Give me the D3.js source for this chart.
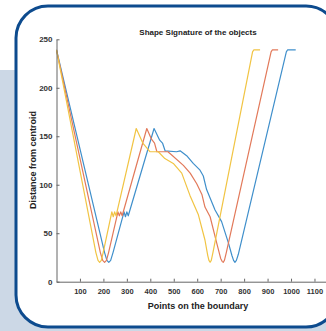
<!DOCTYPE html>
<html>
<head>
<meta charset="utf-8">
<script src="https://cdn.jsdelivr.net/npm/d3@7"></script>
<style>
  html, body { margin: 0; padding: 0; background: #fff; }
  svg { display: block; font-family: "Liberation Sans", Arial, sans-serif; }
</style>
</head>
<body>
<svg id="chart" width="326" height="331"></svg>
<script>
// tick values
const xTicks = [100, 200, 300, 400, 500, 600, 700, 800, 900, 1000, 1100];
const yTicks = [0, 50, 100, 150, 200, 250];

// series 1 (blue)
const blueX = [0, 205, 215, 223, 231, 241, 288, 294, 300, 306, 416, 440, 452, 463, 512, 527, 555, 583, 612, 626, 640, 676, 704, 733, 748, 755, 761, 767, 775, 980, 985, 1020];
const blueY = [239, 30, 22, 20, 22, 30, 72, 67, 72, 68, 158, 146, 143, 135, 134, 135, 130, 122, 115, 109, 95, 74, 62, 40, 27, 22, 20, 22, 28, 237, 239, 239];

// series 2 (orange)
const orangeX = [0, 187, 197, 205, 213, 222, 262, 268, 274, 280, 385, 405, 418, 428, 475, 490, 541, 570, 598, 620, 633, 655, 683, 700, 706, 711, 716, 724, 915, 920, 945];
const orangeY = [239, 30, 22, 20, 22, 30, 72, 68, 72, 68, 158, 147, 143, 134, 134, 131, 120, 112, 101, 90, 77, 67, 40, 24, 21, 20, 22, 30, 237, 239, 239];

// series 3 (yellow)
const yellowX = [0, 168, 177, 184, 191, 199, 236, 242, 248, 254, 340, 368, 399, 434, 462, 498, 534, 569, 605, 633, 645, 650, 655, 660, 667, 836, 841, 868];
const yellowY = [239, 30, 22, 20, 22, 30, 72, 67, 72, 68, 158, 143, 134, 134, 127, 122, 112, 89, 69, 43, 27, 22, 20, 22, 30, 237, 239, 239];

const series = [
  { xs: blueX, ys: blueY, color: '#3f8fcb' },
  { xs: orangeX, ys: orangeY, color: '#e2795a' },
  { xs: yellowX, ys: yellowY, color: '#f1c443' }
];

const svg = d3.select('#chart');

// decoration behind the figure
svg.append('rect')
  .attr('x', 0).attr('y', 70)
  .attr('width', 326).attr('height', 261)
  .attr('fill', '#ccd8e6');

svg.append('rect')
  .attr('x', 16).attr('y', 6)
  .attr('width', 322).attr('height', 321)
  .attr('rx', 32).attr('ry', 32)
  .attr('fill', '#fff')
  .attr('stroke', '#0d4b8e')
  .attr('stroke-width', 3);

const x = d3.scaleLinear().domain([0, 1150]).range([56.5, 326.2]);
const y = d3.scaleLinear().domain([0, 250]).range([281.7, 39.3]);

// lines
const line = d3.line()
  .x(d => x(d[0]))
  .y(d => y(d[1]));

series.forEach(s => {
  const pts = s.xs.map((v, i) => [v, s.ys[i]]);
  svg.append('path')
    .datum(pts)
    .attr('d', line)
    .attr('fill', 'none')
    .attr('stroke', s.color)
    .attr('stroke-width', 1.2)
    .attr('stroke-linejoin', 'round');
});

// axes
const xAxis = svg.append('g')
  .attr('transform', `translate(0,${y(0)})`)
  .call(d3.axisBottom(x).tickValues(xTicks).tickFormat(d3.format('d'))
    .tickSize(-3).tickSizeOuter(0).tickPadding(7));

const yAxis = svg.append('g')
  .attr('transform', `translate(${x(0)},0)`)
  .call(d3.axisLeft(y).tickValues(yTicks).tickFormat(d3.format('d'))
    .tickSize(-3).tickSizeOuter(0).tickPadding(4));

[xAxis, yAxis].forEach(g => {
  g.select('.domain').attr('stroke', '#666');
  g.selectAll('.tick line').attr('stroke', '#666');
  g.selectAll('.tick text')
    .attr('fill', '#333')
    .style('font-family', '"Liberation Sans", Arial, sans-serif')
    .style('font-weight', 'bold');
});
xAxis.selectAll('.tick text').style('font-size', '7.5px');
yAxis.selectAll('.tick text').style('font-size', '8px');

// title and labels
svg.append('text')
  .attr('x', 198).attr('y', 34.5)
  .attr('text-anchor', 'middle')
  .style('font-size', '8px').style('font-weight', 'bold')
  .attr('fill', '#222')
  .text('Shape Signature of the objects');

svg.append('text')
  .attr('x', 198).attr('y', 308.5)
  .attr('text-anchor', 'middle')
  .style('font-size', '9px').style('font-weight', 'bold')
  .attr('fill', '#222')
  .text('Points on the boundary');

svg.append('text')
  .attr('transform', 'translate(35.5,160) rotate(-90)')
  .attr('text-anchor', 'middle')
  .style('font-size', '9px').style('font-weight', 'bold')
  .attr('fill', '#222')
  .text('Distance from centroid');
</script>
</body>
</html>
